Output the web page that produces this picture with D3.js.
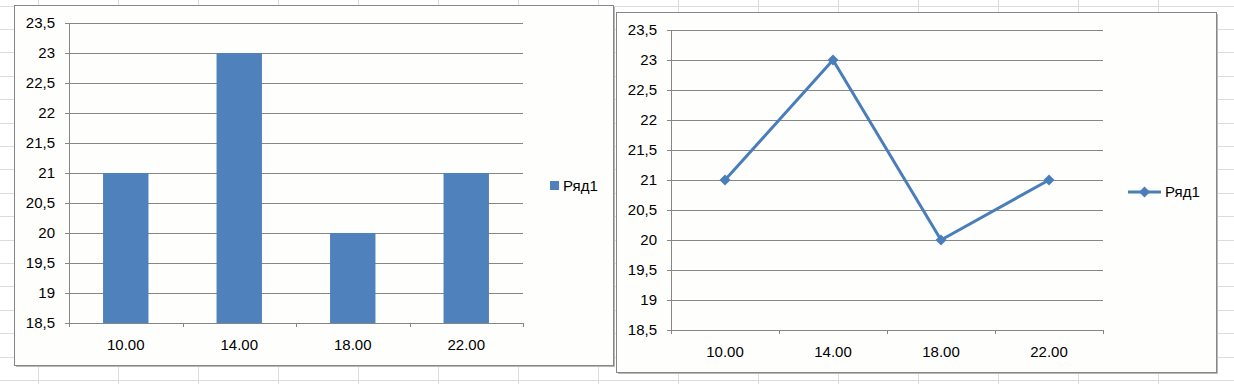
<!DOCTYPE html>
<html>
<head>
<meta charset="utf-8">
<script src="https://cdn.jsdelivr.net/npm/d3@7"></script>
<style>
  html, body { margin: 0; padding: 0; background: #fff; }
  svg { display: block; font-family: "Liberation Sans", Arial, sans-serif; }
</style>
</head>
<body>
<svg id="sheet" width="1234" height="384"></svg>
<script>
// ---- data ----
const categories = ['10.00', '14.00', '18.00', '22.00'];
const values = [21, 23, 20, 21];
const yTicks = [18.5, 19, 19.5, 20, 20.5, 21, 21.5, 22, 22.5, 23, 23.5];
const seriesName = 'Ряд1';

const BLUE = '#4f81bd';
const LINE_BLUE = '#4a7ebb';
const GRID = '#868686';
const ru = d3.formatLocale({ decimal: ',', thousands: ' ', grouping: [3], currency: ['', ''] });
const fmtY = d => ru.format('~g')(d);

const svg = d3.select('#sheet');

// spreadsheet grid behind the charts
const sheet = svg.append('g');
d3.range(38, 1234, 80).forEach(x => {
  sheet.append('line').attr('x1', x + .5).attr('x2', x + .5).attr('y1', 0).attr('y2', 384)
    .attr('stroke', '#dadcdd');
});
d3.range(380, 0, -23.4).forEach(y => {
  sheet.append('line').attr('x1', 0).attr('x2', 1234).attr('y1', Math.round(y) + .5).attr('y2', Math.round(y) + .5)
    .attr('stroke', '#dadcdd');
});

function drawChart(opt) {
  const g = svg.append('g');
  // frame
  g.append('rect').attr('x', opt.fx + .5).attr('y', opt.fy + .5).attr('width', opt.fw).attr('height', opt.fh)
    .attr('fill', '#fefefc').attr('stroke', GRID);
  // slightly heavier bottom/right edge, as in the original
  g.append('path')
    .attr('d', `M${opt.fx + opt.fw + 1.5},${opt.fy + 2}V${opt.fy + opt.fh + 1.5}H${opt.fx + 2}`)
    .attr('fill', 'none').attr('stroke', '#b8b8b8');

  const y = d3.scaleLinear().domain([18.5, 23.5]).range([opt.pb, opt.pt]);
  const x = d3.scaleBand().domain(categories).range([opt.pl, opt.pr]).padding(0);

  // gridlines
  g.append('g').selectAll('line').data(yTicks).join('line')
    .attr('x1', opt.pl - 4).attr('x2', opt.pr)
    .attr('y1', d => Math.round(y(d)) + .5).attr('y2', d => Math.round(y(d)) + .5)
    .attr('stroke', GRID);

  // y labels
  g.append('g').selectAll('text').data(yTicks).join('text')
    .attr('x', opt.pl - 14).attr('y', d => y(d)).attr('dy', '0.36em')
    .attr('text-anchor', 'end').attr('font-size', 15).attr('fill', '#000')
    .text(fmtY);

  // y axis line
  g.append('line').attr('x1', opt.pl + .5).attr('x2', opt.pl + .5)
    .attr('y1', opt.pt).attr('y2', opt.pb + 4).attr('stroke', GRID);

  // x tick marks at band boundaries
  const bounds = categories.map(c => x(c)).concat([opt.pr]);
  g.append('g').selectAll('line').data(bounds).join('line')
    .attr('x1', d => Math.round(d) + .5).attr('x2', d => Math.round(d) + .5)
    .attr('y1', opt.pb).attr('y2', opt.pb + 4).attr('stroke', GRID);

  // x labels
  g.append('g').selectAll('text').data(categories).join('text')
    .attr('x', d => x(d) + x.bandwidth() / 2).attr('y', opt.pb + 22).attr('dy', '0.36em')
    .attr('text-anchor', 'middle').attr('font-size', 15).attr('fill', '#000')
    .text(d => d);

  return { g, x, y };
}

// ---- left: column chart ----
const left = drawChart({ fx: 14, fy: 5, fw: 599, fh: 360, pl: 69, pr: 523, pt: 23, pb: 323 });
left.g.append('g').selectAll('rect').data(values).join('rect')
  .attr('x', (d, i) => left.x(categories[i]) + left.x.bandwidth() * 0.3)
  .attr('width', left.x.bandwidth() * 0.4)
  .attr('y', d => left.y(d))
  .attr('height', d => left.y(18.5) - left.y(d))
  .attr('fill', BLUE);
// axis line redrawn on top of bars
left.g.append('line').attr('x1', 69).attr('x2', 523).attr('y1', 323.5).attr('y2', 323.5).attr('stroke', GRID);
left.g.append('rect').attr('x', 550).attr('y', 181).attr('width', 9).attr('height', 9).attr('fill', BLUE);
left.g.append('text').attr('x', 563).attr('y', 185.5).attr('dy', '0.36em')
  .attr('font-size', 15).attr('fill', '#000').text(seriesName);

// ---- right: line chart ----
const right = drawChart({ fx: 616, fy: 12, fw: 600, fh: 360, pl: 671, pr: 1103, pt: 30, pb: 330 });
const cx = (d, i) => right.x(categories[i]) + right.x.bandwidth() / 2;
right.g.append('path').datum(values)
  .attr('fill', 'none').attr('stroke', LINE_BLUE).attr('stroke-width', 3)
  .attr('stroke-linejoin', 'round')
  .attr('d', d3.line().x(cx).y(d => right.y(d)));
const diamond = d3.symbol().type(d3.symbolDiamond2).size(78);
right.g.append('g').selectAll('path').data(values).join('path')
  .attr('transform', (d, i) => `translate(${cx(d, i)},${right.y(d)})`)
  .attr('d', diamond).attr('fill', LINE_BLUE);
right.g.append('line').attr('x1', 1128).attr('x2', 1161).attr('y1', 192).attr('y2', 192)
  .attr('stroke', LINE_BLUE).attr('stroke-width', 3);
right.g.append('path').attr('transform', 'translate(1144.5,192)').attr('d', diamond).attr('fill', LINE_BLUE);
right.g.append('text').attr('x', 1165).attr('y', 192).attr('dy', '0.36em')
  .attr('font-size', 15).attr('fill', '#000').text(seriesName);
</script>
</body>
</html>
